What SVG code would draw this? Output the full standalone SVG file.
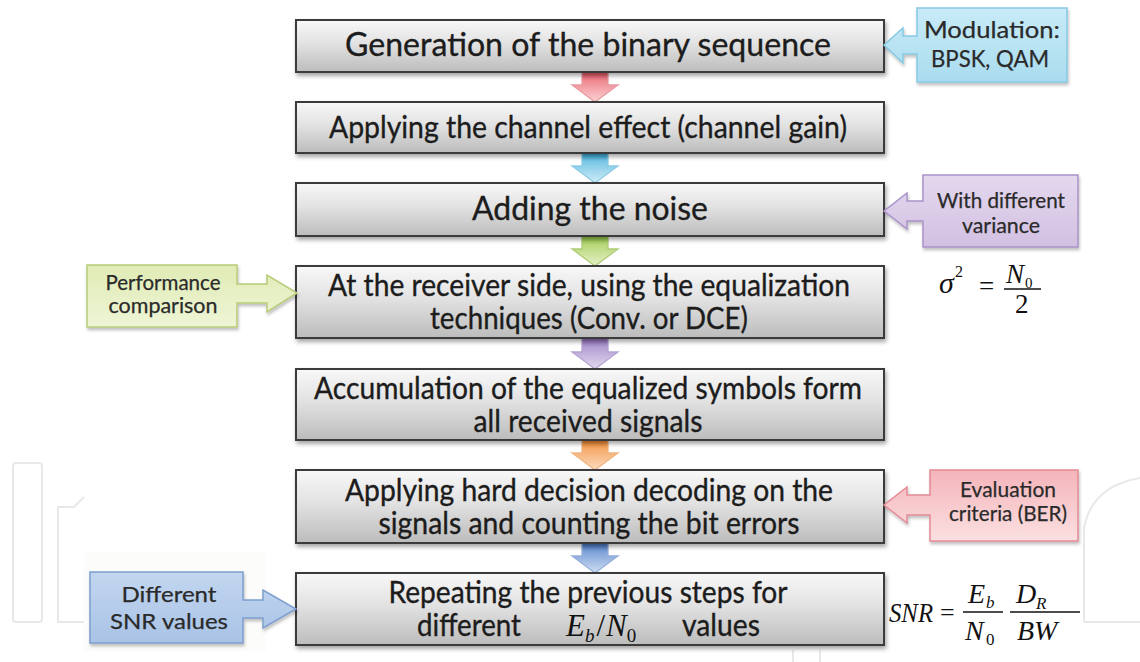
<svg xmlns="http://www.w3.org/2000/svg" width="1140" height="662" viewBox="0 0 1140 662">
<style>
.t{font-family:Lato,"Liberation Sans",sans-serif;fill:#1c1c1c;stroke:#1c1c1c;stroke-width:0.35;text-anchor:middle}
.l{fill:#2a2a2a;stroke:#2a2a2a;stroke-width:0.25}
.m{font-family:"Liberation Serif",serif;fill:#111}
.i{font-style:italic}
.box{fill:url(#gBox);stroke:#3b3b3b;stroke-width:2;filter:url(#sh)}
.wm{fill:none;stroke:#e8e8e8;stroke-width:2}
.arr{stroke-width:1.3}
</style>
<defs>
<filter id="sh" x="-5%" y="-20%" width="110%" height="150%"><feDropShadow dx="1.5" dy="3" stdDeviation="2" flood-color="#000" flood-opacity="0.35"/></filter>
<filter id="sh2" x="-10%" y="-20%" width="120%" height="150%"><feDropShadow dx="1" dy="2.5" stdDeviation="1.8" flood-color="#000" flood-opacity="0.25"/></filter>
<linearGradient id="gBox" x1="0" y1="0" x2="0" y2="1"><stop offset="0" stop-color="#f8f8f8"/><stop offset="0.45" stop-color="#e2e2e2"/><stop offset="1" stop-color="#bcbcbc"/></linearGradient>
<linearGradient id="gCyan" x1="0" y1="0" x2="0" y2="1"><stop offset="0" stop-color="#c9ebf7"/><stop offset="1" stop-color="#a9dcef"/></linearGradient>
<linearGradient id="gPur" x1="0" y1="0" x2="0" y2="1"><stop offset="0" stop-color="#e4d8ee"/><stop offset="1" stop-color="#d2c0e2"/></linearGradient>
<linearGradient id="gGrn" x1="0" y1="0" x2="0" y2="1"><stop offset="0" stop-color="#e0ebb4"/><stop offset="1" stop-color="#eef5d6"/></linearGradient>
<linearGradient id="gRed" x1="0" y1="0" x2="0" y2="1"><stop offset="0" stop-color="#f4b4ba"/><stop offset="1" stop-color="#fbe0e1"/></linearGradient>
<linearGradient id="gBlu" x1="0" y1="0" x2="0" y2="1"><stop offset="0" stop-color="#c2d6ef"/><stop offset="1" stop-color="#a9c3e6"/></linearGradient>
<linearGradient id="a1" x1="0" y1="0" x2="0" y2="1"><stop offset="0" stop-color="#e0505e"/><stop offset="0.3" stop-color="#f08a92"/><stop offset="1" stop-color="#fbd2d4"/></linearGradient>
<linearGradient id="a2" x1="0" y1="0" x2="0" y2="1"><stop offset="0" stop-color="#2ea6d6"/><stop offset="0.3" stop-color="#7cc8e6"/><stop offset="1" stop-color="#d2ecf8"/></linearGradient>
<linearGradient id="a3" x1="0" y1="0" x2="0" y2="1"><stop offset="0" stop-color="#8cc43c"/><stop offset="0.3" stop-color="#b8d87a"/><stop offset="1" stop-color="#e6f0c8"/></linearGradient>
<linearGradient id="a4" x1="0" y1="0" x2="0" y2="1"><stop offset="0" stop-color="#8a68b6"/><stop offset="0.3" stop-color="#b49ed2"/><stop offset="1" stop-color="#e4daf0"/></linearGradient>
<linearGradient id="a5" x1="0" y1="0" x2="0" y2="1"><stop offset="0" stop-color="#f08428"/><stop offset="0.3" stop-color="#f6aa6a"/><stop offset="1" stop-color="#fbdcc0"/></linearGradient>
<linearGradient id="a6" x1="0" y1="0" x2="0" y2="1"><stop offset="0" stop-color="#3f72c0"/><stop offset="0.3" stop-color="#7fa2d8"/><stop offset="1" stop-color="#d0def4"/></linearGradient>
</defs>
<rect width="1140" height="662" fill="#ffffff"/>
<g id="watermark">
<rect class="wm" x="13" y="463" width="29" height="159" rx="3"/>
<path class="wm" d="M84,622 H58 V507 H74 L84,497"/>
<path class="wm" d="M1084,622 V528 Q1092,486 1140,478"/>
<path class="wm" d="M1084,622 H1140"/>
<path class="wm" d="M793,650 V662 M820,650 V662"/>
<rect x="84" y="552" width="182" height="100" fill="#fcfcfa"/>
</g>
<g id="connectors">
<path class="arr" fill="url(#a1)" stroke="#e79aa0" d="M582,72 H608 V85 H618 L595,102 L572,85 H582 Z"/>
<path class="arr" fill="url(#a2)" stroke="#8ccbe4" d="M582,153 H608 V166 H618 L595,183 L572,166 H582 Z"/>
<path class="arr" fill="url(#a3)" stroke="#aecb74" d="M582,236 H608 V249 H618 L595,266 L572,249 H582 Z"/>
<path class="arr" fill="url(#a4)" stroke="#b3a2d2" d="M582,338 H608 V352 H618 L595,369 L572,352 H582 Z"/>
<path class="arr" fill="url(#a5)" stroke="#f1b482" d="M582,440 H608 V453 H618 L595,470 L572,453 H582 Z"/>
<path class="arr" fill="url(#a6)" stroke="#94afd9" d="M582,543 H608 V556 H618 L595,573 L572,556 H582 Z"/>
</g>
<g id="n1"><rect class="box" x="296" y="20" width="588" height="52"/>
<text class="t" x="588" y="56" font-size="33" textLength="486" lengthAdjust="spacingAndGlyphs">Generation of the binary sequence</text></g>
<g id="n2"><rect class="box" x="296" y="102" width="588" height="51"/>
<text class="t" x="588" y="138" font-size="30" textLength="518" lengthAdjust="spacingAndGlyphs">Applying the channel effect (channel gain)</text></g>
<g id="n3"><rect class="box" x="296" y="183" width="588" height="53"/>
<text class="t" x="590" y="220" font-size="33" textLength="236" lengthAdjust="spacingAndGlyphs">Adding the noise</text></g>
<g id="n4"><rect class="box" x="296" y="266" width="588" height="72"/>
<text class="t" x="589" y="296" font-size="30" textLength="522" lengthAdjust="spacingAndGlyphs">At the receiver side, using the equalization</text>
<text class="t" x="589" y="329" font-size="30" textLength="318" lengthAdjust="spacingAndGlyphs">techniques (Conv. or DCE)</text></g>
<g id="n5"><rect class="box" x="296" y="369" width="588" height="71"/>
<text class="t" x="588" y="399" font-size="30" textLength="548" lengthAdjust="spacingAndGlyphs">Accumulation of the equalized  symbols form</text>
<text class="t" x="588" y="432" font-size="30" textLength="229" lengthAdjust="spacingAndGlyphs">all received  signals</text></g>
<g id="n6"><rect class="box" x="296" y="470" width="588" height="73"/>
<text class="t" x="589" y="501" font-size="30" textLength="488" lengthAdjust="spacingAndGlyphs">Applying hard decision decoding on the</text>
<text class="t" x="589" y="534" font-size="30" textLength="421" lengthAdjust="spacingAndGlyphs">signals and counting the bit errors</text></g>
<g id="n7"><rect class="box" x="296" y="573" width="588" height="72"/>
<text class="t" x="588" y="603" font-size="30" textLength="399" lengthAdjust="spacingAndGlyphs">Repeating the previous steps for</text>
<text class="t" x="469" y="636" font-size="30" textLength="104" lengthAdjust="spacingAndGlyphs">different</text>
<text class="m" x="566" y="636" font-size="31"><tspan class="i">E</tspan><tspan font-size="19" dy="6" class="i">b</tspan><tspan dy="-6" dx="2">/</tspan><tspan class="i" dx="1">N</tspan><tspan font-size="19" dy="6">0</tspan></text>
<text class="t" x="721" y="636" font-size="30" textLength="78" lengthAdjust="spacingAndGlyphs">values</text></g>
<g id="c1"><path filter="url(#sh2)" fill="url(#gCyan)" stroke="#86c9e3" stroke-width="1.5" d="M917,8 H1067 V82 H917 V54 H903 V63 L884,45 L903,28 V36 H917 Z"/>
<text class="t l" x="992" y="38" font-size="24" textLength="136" lengthAdjust="spacingAndGlyphs">Modulation:</text>
<text class="t l" x="990" y="67" font-size="24" textLength="118" lengthAdjust="spacingAndGlyphs">BPSK, QAM</text></g>
<g id="c2"><path filter="url(#sh2)" fill="url(#gPur)" stroke="#a993c8" stroke-width="1.5" d="M923,175 H1078 V247 H923 V221 H907 V229 L884,211 L907,193 V201 H923 Z"/>
<text class="t l" x="1001" y="208" font-size="21" textLength="128" lengthAdjust="spacingAndGlyphs">With different</text>
<text class="t l" x="1001" y="233" font-size="21" textLength="78" lengthAdjust="spacingAndGlyphs">variance</text></g>
<g id="c3"><path filter="url(#sh2)" fill="url(#gGrn)" stroke="#b7cc79" stroke-width="1.5" d="M87,265 H237 V284 H267 V275 L297,293 L267,312 V303 H237 V327 H87 Z"/>
<text class="t l" x="163" y="290" font-size="21" textLength="115" lengthAdjust="spacingAndGlyphs">Performance</text>
<text class="t l" x="163" y="313" font-size="21" textLength="109" lengthAdjust="spacingAndGlyphs">comparison</text></g>
<g id="c4"><path filter="url(#sh2)" fill="url(#gRed)" stroke="#e38b94" stroke-width="1.5" d="M930,470 H1078 V541 H930 V515 H907 V523 L884,505 L907,487 V495 H930 Z"/>
<text class="t l" x="1008" y="497" font-size="21" textLength="96" lengthAdjust="spacingAndGlyphs">Evaluation</text>
<text class="t l" x="1008" y="521" font-size="21" textLength="118" lengthAdjust="spacingAndGlyphs">criteria (BER)</text></g>
<g id="c5"><path filter="url(#sh2)" fill="url(#gBlu)" stroke="#7e9fd0" stroke-width="1.5" d="M90,572 H243 V600 H263 V590 L296,609 L263,628 V618 H243 V643 H90 Z"/>
<text class="t l" x="169" y="602" font-size="22" textLength="95" lengthAdjust="spacingAndGlyphs">Different</text>
<text class="t l" x="169" y="629" font-size="22" textLength="118" lengthAdjust="spacingAndGlyphs">SNR values</text></g>
<g id="f1">
<text class="m i" x="939" y="293" font-size="30">σ</text>
<text class="m" x="955" y="277" font-size="16">2</text>
<text class="m" x="979" y="295" font-size="27">=</text>
<text class="m i" x="1006" y="283" font-size="27">N</text>
<text class="m" x="1025" y="288" font-size="15">0</text>
<line x1="1004" y1="289" x2="1041" y2="289" stroke="#111" stroke-width="1.3"/>
<text class="m" x="1015" y="313" font-size="27">2</text>
</g>
<g id="f2">
<text class="m i" x="889" y="622" font-size="28" textLength="44" lengthAdjust="spacingAndGlyphs">SNR</text>
<text class="m" x="940" y="621" font-size="26">=</text>
<text class="m i" x="968" y="603" font-size="28">E</text>
<text class="m i" x="986" y="608" font-size="17">b</text>
<line x1="963" y1="612" x2="1003" y2="612" stroke="#111" stroke-width="1.3"/>
<text class="m i" x="965" y="640" font-size="28">N</text>
<text class="m" x="986" y="645" font-size="17">0</text>
<text class="m i" x="1016" y="603" font-size="28">D</text>
<text class="m i" x="1036" y="609" font-size="17">R</text>
<line x1="1010" y1="612" x2="1080" y2="612" stroke="#111" stroke-width="1.3"/>
<text class="m i" x="1017" y="640" font-size="28">BW</text>
</g>
</svg>
